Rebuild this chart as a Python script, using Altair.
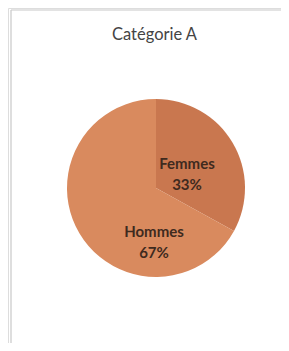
import altair as alt
import pandas as pd

title_text = "Catégorie A"
categories = ["Femmes", "Hommes"]
values = [33, 67]
colors = ["#C9774F", "#D98A5E"]

df = pd.DataFrame({"cat": categories, "val": values, "ord": [0, 1]})
df["label"] = [f"{c}\n{v}%" for c, v in zip(categories, values)]

CX, CY, R = 148, 180, 89

base = alt.Chart(df)

arc = base.mark_arc(stroke=None).encode(
    theta=alt.Theta("val:Q", stack=True, scale=alt.Scale(domain=[0, 100])),
    order=alt.Order("ord:Q"),
    color=alt.Color("cat:N", scale=alt.Scale(domain=categories, range=colors), legend=None),
    x=alt.value(CX), y=alt.value(CY), radius=alt.value(R),
)

txt_common = dict(lineBreak="\n", font="Lato", fontWeight="bold", fontSize=15,
                  color="#3f2a1e", align="center", baseline="middle", lineHeight=21)

lab = base.transform_window(
    cum="sum(val)", sort=[alt.SortField("ord")]
).transform_calculate(mid="datum.cum - datum.val/2")

t_f = lab.transform_filter(alt.datum.cat == "Femmes").mark_text(dy=-6, **txt_common).encode(
    theta=alt.Theta("mid:Q", stack=None, scale=alt.Scale(domain=[0, 100])),
    radius=alt.value(36), x=alt.value(CX), y=alt.value(CY), text="label:N")

t_h = lab.transform_filter(alt.datum.cat == "Hommes").mark_text(dx=-2, dy=44, **txt_common).encode(
    theta=alt.Theta("mid:Q", stack=None, scale=alt.Scale(domain=[0, 100])),
    radius=alt.value(0), x=alt.value(CX), y=alt.value(CY), text="label:N")

left_line = alt.Chart(pd.DataFrame({"a": [0]})).mark_rule(color="#c8c8c8", strokeWidth=1.2).encode(
    x=alt.value(3), y=alt.value(2), y2=alt.value(345))
top_line = alt.Chart(pd.DataFrame({"a": [0]})).mark_rule(color="#c8c8c8", strokeWidth=1.2).encode(
    x=alt.value(3), x2=alt.value(281), y=alt.value(2))

chart = alt.layer(left_line, top_line, arc, t_f, t_h).properties(
    width=273, height=335,
    autosize=alt.AutoSizeParams(type="none"),
    padding=0,
    title=alt.TitleParams(title_text, anchor="middle", frame="group", font="Lato",
                          fontSize=16.5, fontWeight="normal", color="#444444", dy=35, dx=10, offset=0),
).configure_view(stroke=None).configure(background="white")

chart.save("out.html", embed_options={"renderer": "svg", "actions": False})
